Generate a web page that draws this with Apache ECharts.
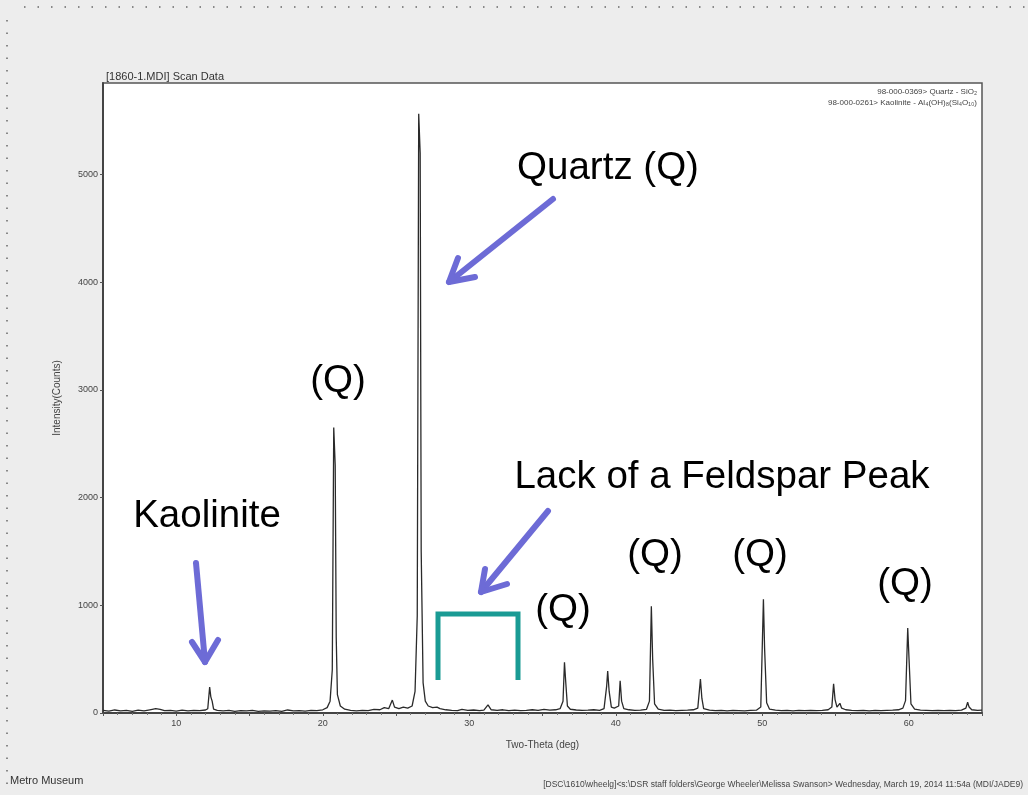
<!DOCTYPE html>
<html>
<head>
<meta charset="utf-8">
<script src="https://cdn.jsdelivr.net/npm/echarts@6/dist/echarts.min.js"></script>
<style>
html,body{margin:0;padding:0;background:#ededed;}
#chart{width:1028px;height:795px;}
</style>
</head>
<body>
<div id="chart"></div>
<script>
// Scan data: two-theta (deg) and intensity (counts)
var twoTheta = [
 5.0,5.4,5.8,6.2,6.6,7.0,7.4,7.8,8.2,8.6,8.9,9.2,9.6,10.0,10.4,10.8,11.2,11.6,12.0,
 12.15,12.28,12.36,12.45,12.55,12.8,13.2,13.6,14.0,14.4,14.8,15.2,15.6,16.0,16.4,16.8,17.2,17.6,18.0,18.4,18.8,19.2,19.6,20.0,20.3,
 20.5,20.65,20.75,20.85,20.92,21.0,21.2,21.5,21.9,22.3,22.7,23.1,23.5,23.9,24.2,24.5,24.75,24.9,25.2,25.5,25.8,26.1,26.3,26.45,26.55,26.65,26.72,26.85,27.0,27.2,27.5,27.8,28.0,28.4,28.8,29.2,29.5,29.9,30.3,30.7,31.0,31.28,31.5,31.9,32.3,32.7,33.1,33.5,33.9,34.3,34.7,35.1,35.5,35.9,36.2,36.4,36.5,36.58,36.7,36.9,37.3,37.7,38.1,38.5,38.9,39.2,39.38,39.45,39.55,39.7,39.9,40.2,40.3,40.4,40.55,40.9,41.3,41.7,42.1,42.3,42.43,42.52,42.65,42.9,43.3,43.7,44.1,44.5,44.9,45.3,45.6,45.78,45.88,46.0,46.4,46.8,47.2,47.6,48.0,48.4,48.8,49.2,49.6,49.9,50.08,50.16,50.3,50.5,50.9,51.3,51.7,52.1,52.5,52.9,53.3,53.7,54.1,54.5,54.75,54.87,54.97,55.1,55.3,55.42,55.7,56.1,56.5,56.9,57.3,57.7,58.1,58.5,58.9,59.3,59.6,59.78,59.93,60.02,60.15,60.4,60.8,61.2,61.6,62.0,62.4,62.8,63.2,63.6,63.9,64.02,64.12,64.3,64.7,65.0
];
var counts = [
 25,18,28,20,24,16,26,20,30,40,34,22,24,18,26,20,24,22,28,
 40,240,150,110,35,24,20,24,16,22,20,24,16,20,18,22,16,28,20,22,18,24,22,30,50,
 110,400,2650,2300,700,170,65,35,24,20,24,22,34,30,50,40,120,55,40,55,45,65,200,900,5565,5200,1500,280,110,65,50,55,40,30,24,22,34,24,28,22,26,75,30,24,30,22,26,22,24,30,24,34,26,30,40,110,470,300,65,35,28,24,26,30,24,40,250,390,200,55,45,65,300,110,40,30,24,26,34,110,990,500,85,35,24,26,22,24,26,30,45,315,135,40,26,22,24,20,24,22,20,24,26,55,1055,600,95,35,26,22,24,20,24,22,24,22,24,30,55,270,125,55,90,45,30,24,22,24,20,24,22,24,26,30,45,115,790,500,85,35,26,24,22,24,22,24,22,26,45,100,55,30,24,26
];
var yTicks = [0,1000,2000,3000,4000,5000];
var xTickLabels = [10,20,30,40,50,60];
var peakLabels = ['(Q)','(Q)','(Q)','(Q)','(Q)'];

var scan = twoTheta.map(function(x,i){return [x,counts[i]];});

var chart = echarts.init(document.getElementById('chart'), null, {renderer:'canvas'});
var FONT = '"Liberation Sans", Arial, sans-serif';
var ARROW = '#6d6bd6';
var TEAL = '#1a9b94';

function arrow(x1,y1,x2,y2,w1,w2){
  return [
    {type:'polyline', shape:{points:[[x1,y1],[x2,y2]]}, style:{stroke:ARROW,lineWidth:6,lineCap:'round'}, z:20},
    {type:'polyline', shape:{points:[w1,[x2,y2],w2]}, style:{stroke:ARROW,lineWidth:6,lineCap:'round',lineJoin:'round',fill:null}, z:20}
  ];
}
function bigText(t,x,y){
  return {type:'text', x:x, y:y, style:{text:t, font:'38.5px '+FONT, fill:'#000', align:'center', verticalAlign:'middle'}, z:20};
}

var graphics = [
  {type:'line', shape:{x1:24,y1:7,x2:1028,y2:7}, style:{stroke:'#888',lineWidth:2,lineDash:[1.5,12]}},
  {type:'line', shape:{x1:7,y1:20,x2:7,y2:795}, style:{stroke:'#888',lineWidth:2,lineDash:[1.5,11]}},
  {type:'text', x:106, y:77, style:{text:'[1860-1.MDI] Scan Data', font:'11px '+FONT, fill:'#333', verticalAlign:'middle'}},
  {type:'text', x:977, y:92, style:{text:'98-000-0369> Quartz - SiO\u2082', font:'8px '+FONT, fill:'#444', align:'right', verticalAlign:'middle'}, z:10},
  {type:'text', x:977, y:103, style:{text:'98-000-0261> Kaolinite - Al\u2084(OH)\u2088(Si\u2084O\u2081\u2080)', font:'8px '+FONT, fill:'#444', align:'right', verticalAlign:'middle'}, z:10},
  {type:'text', x:10, y:781, style:{text:'Metro Museum', font:'11px '+FONT, fill:'#333', verticalAlign:'middle'}},
  {type:'text', x:1023, y:785, style:{text:'[DSC\\1610\\wheelg]<s:\\DSR staff folders\\George Wheeler\\Melissa Swanson> Wednesday, March 19, 2014 11:54a (MDI/JADE9)', font:'8.5px '+FONT, fill:'#444', align:'right', verticalAlign:'middle'}},
  bigText('Quartz (Q)', 608, 168),
  bigText('Kaolinite', 207, 516),
  bigText('Lack of a Feldspar Peak', 722, 477),
  bigText(peakLabels[0], 338, 381),
  bigText(peakLabels[1], 563, 610),
  bigText(peakLabels[2], 655, 555),
  bigText(peakLabels[3], 760, 555),
  bigText(peakLabels[4], 905, 584),
  {type:'polyline', shape:{points:[[438,680],[438,614],[518,614],[518,680]]}, style:{stroke:TEAL,lineWidth:5,fill:null}, z:20}
];
graphics = graphics.concat(arrow(553,199,449,282,[458,258],[475,277]));
graphics = graphics.concat(arrow(196,563,205,662,[192,642],[218,640]));
graphics = graphics.concat(arrow(548,511,481,592,[485,569],[507,584]));

chart.setOption({
  backgroundColor:'#ededed',
  animation:false,
  grid:{left:103,right:46,top:83,bottom:82,show:true,backgroundColor:'#fff',borderColor:'#555',borderWidth:1.5},
  xAxis:{
    type:'value', min:5, max:65, interval:5,
    name:'Two-Theta (deg)', nameLocation:'middle', nameGap:27,
    nameTextStyle:{fontSize:10,color:'#444',fontFamily:FONT},
    axisLine:{show:true,onZero:false,lineStyle:{color:'#444',width:2}},
    axisTick:{show:true,length:3,lineStyle:{color:'#555'}},
    minorTick:{show:true,splitNumber:5,length:2,lineStyle:{color:'#777'}},
    splitLine:{show:false},
    axisLabel:{fontSize:9,color:'#444',fontFamily:FONT,margin:6,showMinLabel:false,showMaxLabel:false,
      formatter:function(v){return xTickLabels.indexOf(v)>=0 ? String(v) : '';}}
  },
  yAxis:{
    type:'value', min:0, max:5850, interval:1000,
    name:'Intensity(Counts)', nameLocation:'middle', nameGap:41,
    nameTextStyle:{fontSize:10,color:'#444',fontFamily:FONT},
    axisLine:{show:true,lineStyle:{color:'#444',width:2}},
    axisTick:{show:true,length:3,lineStyle:{color:'#555'}},
    splitLine:{show:false},
    axisLabel:{fontSize:9,color:'#444',fontFamily:FONT,margin:5,showMaxLabel:false,
      formatter:function(v){return yTicks.indexOf(v)>=0 ? String(v) : '';}}
  },
  series:[{
    type:'line', data:scan, showSymbol:false, symbol:'none',
    lineStyle:{color:'#2a2a2a',width:1.3}, z:5
  }],
  graphic:graphics
});
</script>
</body>
</html>
